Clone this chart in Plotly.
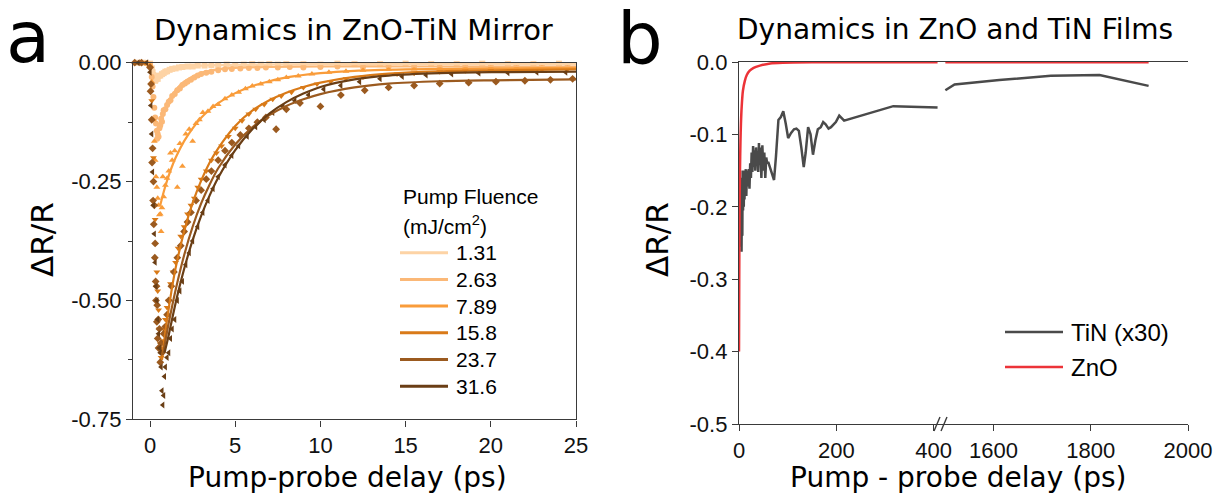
import plotly.graph_objects as go

W, H = 1222, 498

# ---------------- Panel a: ZnO-TiN mirror, transient reflectivity ----------------
fluences = ["1.31", "2.63", "7.89", "15.8", "23.7", "31.6"]
colors_a = ["#fdd3a5", "#fbb877", "#f99c3a", "#d97a18", "#9b5a1f", "#6a3e15"]
symbols_a = ["square", "circle", "triangle-up", "triangle-down", "diamond", "triangle-left"]

# measured points (delay in ps, dR/R)
t_131 = [-0.8, -0.4, 0.0, 0.1, 0.15, 0.2, 0.25, 0.3, 0.35, 0.4, 0.45, 0.5, 0.6, 0.7, 0.8, 0.9, 1.0, 1.15, 1.3, 1.5,
         1.7, 1.9, 2.2, 2.5, 2.8, 3.2, 3.6, 4.0, 4.5, 5.0, 5.5, 6.0, 6.5, 7.0, 7.5, 8.0, 9.0, 10.0, 11.0, 12.0, 13.5,
         15.0, 16.5, 18.0, 19.5, 21.0, 22.5, 24.0]
y_131 = [0.000, 0.000, -0.002, -0.012, -0.020, -0.026, -0.033, -0.038, -0.035, -0.031, -0.034, -0.028, -0.027, -0.024,
         -0.022, -0.019, -0.018, -0.015, -0.013, -0.012, -0.010, -0.009, -0.008, -0.008, -0.006, -0.006, -0.005, -0.006,
         -0.004, -0.005, -0.004, -0.003, -0.004, -0.003, -0.004, -0.003, -0.003, -0.004, -0.002, -0.003, -0.003, -0.002,
         -0.003, -0.003, -0.002, -0.003, -0.003, -0.002]

t_263 = [-0.6, -0.2, 0.0, 0.1, 0.15, 0.2, 0.25, 0.3, 0.35, 0.4, 0.42, 0.45, 0.5, 0.55, 0.6, 0.65, 0.7, 0.75, 0.8, 0.9,
         1.0, 1.1, 1.2, 1.3, 1.45, 1.6, 1.75, 1.9, 2.05, 2.2, 2.4, 2.6, 2.8, 3.0, 3.3, 3.6, 4.0, 4.4, 4.8, 5.3, 5.8,
         6.3, 6.8, 7.5, 8.2, 9.0, 10.0, 11.0, 12.5, 14.0, 15.5, 17.0, 18.5, 20.0, 21.5, 23.0, 24.5]
y_263 = [0.000, -0.001, -0.004, -0.030, -0.050, -0.072, -0.095, -0.115, -0.128, -0.143, -0.160, -0.150, -0.156, -0.138,
         -0.132, -0.118, -0.124, -0.108, -0.100, -0.098, -0.089, -0.082, -0.079, -0.070, -0.066, -0.058, -0.054, -0.047,
         -0.044, -0.040, -0.036, -0.031, -0.027, -0.024, -0.021, -0.019, -0.016, -0.014, -0.013, -0.012, -0.011, -0.011,
         -0.010, -0.010, -0.009, -0.010, -0.009, -0.008, -0.009, -0.008, -0.008, -0.009, -0.008, -0.008, -0.007, -0.008,
         -0.008]

t_789 = [-0.5, 0.0, 0.1, 0.2, 0.25, 0.3, 0.35, 0.4, 0.45, 0.5, 0.55, 0.6, 0.65, 0.7, 0.75, 0.8, 0.9, 1.0, 1.1, 1.2,
         1.3, 1.45, 1.6, 1.75, 1.9, 2.1, 2.3, 2.5, 2.7, 2.9, 3.1, 3.4, 3.7, 4.0, 4.4, 4.8, 5.2, 5.6, 6.0, 6.5, 7.0, 7.5,
         8.0, 8.7, 9.5, 10.5, 11.5, 12.5, 14.0, 15.5, 17.0, 18.5, 20.0, 21.5, 23.0, 24.5]
y_789 = [0.000, -0.005, -0.040, -0.120, -0.165, -0.205, -0.240, -0.262, -0.285, -0.300, -0.320, -0.318, -0.355, -0.305,
         -0.240, -0.282, -0.258, -0.243, -0.228, -0.190, -0.205, -0.185, -0.262, -0.170, -0.218, -0.150, -0.140, -0.165,
         -0.128, -0.120, -0.105, -0.102, -0.092, -0.088, -0.076, -0.068, -0.062, -0.055, -0.049, -0.045, -0.040, -0.036,
         -0.031, -0.028, -0.024, -0.020, -0.018, -0.016, -0.014, -0.013, -0.012, -0.012, -0.011, -0.011, -0.010, -0.010]

t_158 = [-0.3, 0.0, 0.1, 0.2, 0.3, 0.4, 0.45, 0.5, 0.55, 0.6, 0.65, 0.7, 0.75, 0.8, 0.9, 1.0, 1.1, 1.2, 1.35, 1.5,
         1.65, 1.8, 2.0, 2.2, 2.4, 2.6, 2.8, 3.0, 3.3, 3.6, 3.9, 4.2, 4.6, 5.0, 5.4, 5.8, 6.2, 6.7, 7.2, 7.7, 8.3, 9.0,
         9.8, 10.6, 11.5, 12.5, 13.5, 14.5, 15.5, 17.0, 18.5, 20.0, 21.5, 23.0, 24.5]
y_158 = [0.000, -0.010, -0.080, -0.200, -0.330, -0.440, -0.480, -0.520, -0.560, -0.590, -0.620, -0.600, -0.585, -0.560,
         -0.540, -0.515, -0.500, -0.465, -0.440, -0.420, -0.390, -0.365, -0.345, -0.318, -0.300, -0.285, -0.262, -0.245,
         -0.228, -0.205, -0.190, -0.175, -0.155, -0.138, -0.122, -0.108, -0.098, -0.088, -0.077, -0.070, -0.062, -0.052,
         -0.045, -0.040, -0.034, -0.030, -0.027, -0.024, -0.022, -0.019, -0.017, -0.016, -0.015, -0.015, -0.014]

t_237 = [-0.9, -0.5, 0.0, 0.03, 0.06, 0.1, 0.12, 0.15, 0.18, 0.2, 0.22, 0.25, 0.28, 0.3, 0.33, 0.35, 0.38, 0.4, 0.42,
         0.45, 0.48, 0.5, 0.55, 0.6, 0.65, 0.7, 0.8, 0.9, 1.0, 1.1, 1.25, 1.4, 1.6, 1.8, 2.0, 2.2, 2.4, 2.7, 3.0, 3.3,
         3.6, 4.0, 4.4, 4.8, 5.3, 5.8, 6.3, 6.8, 7.4, 8.0, 8.8, 10.0, 11.2, 12.6, 14.0, 15.5, 17.0, 18.7, 20.3, 22.0,
         23.5, 24.8]
y_237 = [0.000, 0.000, -0.010, -0.060, -0.045, -0.120, -0.210, -0.180, -0.290, -0.250, -0.340, -0.300, -0.410, -0.380,
         -0.460, -0.500, -0.470, -0.545, -0.510, -0.580, -0.540, -0.600, -0.560, -0.630, -0.590, -0.610, -0.570, -0.555,
         -0.530, -0.500, -0.470, -0.440, -0.410, -0.385, -0.355, -0.335, -0.315, -0.290, -0.268, -0.245, -0.228, -0.205,
         -0.185, -0.168, -0.152, -0.138, -0.125, -0.115, -0.140, -0.098, -0.085, -0.092, -0.068, -0.058, -0.052, -0.048,
         -0.044, -0.042, -0.040, -0.038, -0.036, -0.034]

t_316 = [-0.7, -0.2, 0.0, 0.05, 0.1, 0.15, 0.2, 0.25, 0.3, 0.35, 0.4, 0.45, 0.5, 0.55, 0.6, 0.65, 0.7, 0.75, 0.8, 0.85,
         0.9, 1.0, 1.1, 1.2, 1.3, 1.45, 1.6, 1.75, 1.9, 2.1, 2.3, 2.5, 2.8, 3.1, 3.4, 3.7, 4.0, 4.4, 4.8, 5.2, 5.7, 6.2,
         6.7, 7.2, 7.8, 8.5, 9.3, 10.2, 11.2, 12.3, 13.5, 14.8, 16.2, 17.7, 19.3, 21.0, 22.7, 24.4]
y_316 = [0.000, 0.000, -0.020, -0.090, -0.150, -0.230, -0.300, -0.360, -0.420, -0.470, -0.500, -0.540, -0.570, -0.600,
         -0.610, -0.640, -0.690, -0.720, -0.700, -0.660, -0.640, -0.620, -0.610, -0.580, -0.560, -0.540, -0.500, -0.480,
         -0.460, -0.425, -0.400, -0.375, -0.345, -0.315, -0.290, -0.265, -0.240, -0.215, -0.195, -0.175, -0.155, -0.135,
         -0.120, -0.105, -0.092, -0.080, -0.068, -0.056, -0.048, -0.040, -0.034, -0.029, -0.026, -0.024, -0.022, -0.021,
         -0.020, -0.020]

# exponential-recovery fits (delay in ps, dR/R)
ft_131 = [0.3, 0.5, 0.75, 1.0, 1.5, 2.0, 3.0, 4.0, 6.0, 10.0, 15.0, 20.0, 25.0]
fy_131 = [-0.030, -0.026, -0.021, -0.017, -0.012, -0.009, -0.006, -0.005, -0.004, -0.003, -0.003, -0.003, -0.003]
ft_263 = [0.45, 0.6, 0.8, 1.0, 1.25, 1.5, 2.0, 2.5, 3.0, 4.0, 5.0, 7.0, 10.0, 15.0, 20.0, 25.0]
fy_263 = [-0.152, -0.130, -0.106, -0.088, -0.071, -0.058, -0.040, -0.029, -0.021, -0.014, -0.011, -0.009, -0.008,
          -0.008, -0.008, -0.008]
ft_789 = [0.6, 0.8, 1.0, 1.25, 1.5, 2.0, 2.5, 3.0, 3.5, 4.0, 5.0, 6.0, 7.0, 8.0, 10.0, 12.0, 15.0, 20.0, 25.0]
fy_789 = [-0.300, -0.272, -0.248, -0.222, -0.200, -0.165, -0.138, -0.116, -0.099, -0.085, -0.064, -0.049, -0.039,
          -0.031, -0.022, -0.017, -0.014, -0.012, -0.011]
ft_158 = [0.7, 0.85, 1.0, 1.25, 1.5, 2.0, 2.5, 3.0, 3.5, 4.0, 5.0, 6.0, 7.0, 8.0, 9.0, 10.0, 12.0, 14.0, 17.0, 20.0, 25.0]
fy_158 = [-0.625, -0.580, -0.540, -0.482, -0.432, -0.355, -0.295, -0.248, -0.210, -0.180, -0.133, -0.101, -0.079,
          -0.063, -0.051, -0.042, -0.030, -0.023, -0.018, -0.016, -0.014]
ft_237 = [0.75, 0.9, 1.05, 1.25, 1.5, 2.0, 2.5, 3.0, 3.5, 4.0, 5.0, 6.0, 7.0, 8.0, 9.0, 10.0, 12.0, 14.0, 17.0, 20.0, 25.0]
fy_237 = [-0.615, -0.585, -0.556, -0.520, -0.478, -0.405, -0.345, -0.296, -0.256, -0.222, -0.172, -0.136, -0.110,
          -0.091, -0.077, -0.066, -0.052, -0.044, -0.039, -0.037, -0.035]
ft_316 = [0.85, 1.0, 1.15, 1.35, 1.6, 2.0, 2.5, 3.0, 3.5, 4.0, 5.0, 6.0, 7.0, 8.0, 9.0, 10.0, 12.0, 14.0, 17.0, 20.0, 25.0]
fy_316 = [-0.610, -0.588, -0.564, -0.530, -0.490, -0.434, -0.373, -0.322, -0.279, -0.242, -0.184, -0.140, -0.107,
          -0.083, -0.065, -0.051, -0.035, -0.027, -0.022, -0.020, -0.019]

points_a = [(t_131, y_131), (t_263, y_263), (t_789, y_789), (t_158, y_158), (t_237, y_237), (t_316, y_316)]
fits_a = [(ft_131, fy_131), (ft_263, fy_263), (ft_789, fy_789), (ft_158, fy_158), (ft_237, fy_237), (ft_316, fy_316)]

yticks_a = [-0.75, -0.50, -0.25, 0.00]
yticktext_a = ["-0.75", "-0.50", "-0.25", "0.00"]
xticks_a = [0, 5, 10, 15, 20, 25]

# ---------------- Panel b: bare ZnO and TiN films ----------------
# TiN signal (scaled x30), early-delay segment and late-delay segment
tin_t1 = [3, 3.8, 4.5, 5.2, 6, 6.8, 7.5, 8.3, 9, 9.8, 10.5, 11.3, 12, 13, 14, 15, 16, 17, 18, 19, 20, 21.5, 23, 24.5,
          26, 27.5, 29, 30.5, 32, 33.5, 35, 36.5, 38, 39.5, 41, 42.5, 44, 46, 48, 50, 52, 54, 56, 58, 60, 63, 66, 69,
          72, 76, 81, 86, 91, 96, 101, 107, 113, 118, 123, 128, 133, 137, 142, 147, 152, 157, 162, 168, 173, 178,
          184, 189, 194, 199, 206, 216, 317, 408]
tin_y1 = [-0.170, -0.255, -0.160, -0.262, -0.175, -0.240, -0.150, -0.205, -0.165, -0.200, -0.150, -0.190, -0.155,
          -0.178, -0.148, -0.185, -0.158, -0.172, -0.150, -0.165, -0.148, -0.175, -0.140, -0.160, -0.125, -0.152,
          -0.116, -0.145, -0.122, -0.150, -0.118, -0.140, -0.125, -0.152, -0.112, -0.142, -0.118, -0.160, -0.115,
          -0.150, -0.125, -0.160, -0.132, -0.140, -0.138, -0.145, -0.150, -0.158, -0.163, -0.130, -0.080, -0.076,
          -0.068, -0.085, -0.105, -0.098, -0.093, -0.092, -0.095, -0.118, -0.145, -0.125, -0.090, -0.100, -0.128,
          -0.108, -0.093, -0.090, -0.083, -0.086, -0.092, -0.090, -0.087, -0.083, -0.074, -0.081, -0.061, -0.063]
tin_t2 = [1501, 1520, 1612, 1718, 1818, 1919]
tin_y2 = [-0.039, -0.031, -0.025, -0.019, -0.018, -0.033]

# ZnO signal
zno_t1 = [0, 0.5, 1, 2, 3, 4, 5.5, 8, 12, 16, 22, 30, 43, 64, 90, 150, 250, 408]
zno_y1 = [-0.400, -0.300, -0.220, -0.150, -0.110, -0.085, -0.062, -0.040, -0.026, -0.018, -0.012, -0.008, -0.005,
          -0.002, -0.001, -0.0005, -0.0005, -0.0005]
zno_t2 = [1501, 1600, 1700, 1800, 1919]
zno_y2 = [-0.0005, -0.0005, -0.0005, -0.0005, -0.0005]

yticks_b = [-0.5, -0.4, -0.3, -0.2, -0.1, 0.0]
yticktext_b = ["-0.5", "-0.4", "-0.3", "-0.2", "-0.1", "0.0"]
xticks_b1 = [0, 200, 400]
xticks_b2 = [1600, 1800, 2000]


def px(x):
    return x / W


def py(y):
    return 1 - y / H


AXIS = "#3a3a3a"
TICKFONT = dict(family="Liberation Sans, Arial", size=22, color="#111")
TITLEFONT = "DejaVu Sans"

fig = go.Figure()

for (pt, pyv), c, s in zip(points_a, colors_a, symbols_a):
    fig.add_trace(go.Scatter(x=pt, y=pyv, mode="markers", xaxis="x", yaxis="y",
                             marker=dict(symbol=s, size=6, color=c, line=dict(width=0)),
                             showlegend=False, cliponaxis=False))
for (ftx, fty), c in zip(fits_a, colors_a):
    fig.add_trace(go.Scatter(x=ftx, y=fty, mode="lines", xaxis="x", yaxis="y",
                             line=dict(color=c, width=2.2, shape="spline", smoothing=0.8),
                             showlegend=False))

TIN_C = "#4a4a4a"
ZNO_C = "#ec3338"
fig.add_trace(go.Scatter(x=tin_t1, y=tin_y1, mode="lines", xaxis="x2", yaxis="y2",
                         line=dict(color=TIN_C, width=2.5), showlegend=False))
fig.add_trace(go.Scatter(x=tin_t2, y=tin_y2, mode="lines", xaxis="x3", yaxis="y2",
                         line=dict(color=TIN_C, width=2.5), showlegend=False))
fig.add_trace(go.Scatter(x=zno_t1, y=zno_y1, mode="lines", xaxis="x2", yaxis="y2",
                         line=dict(color=ZNO_C, width=2.5, shape="spline", smoothing=0.6), showlegend=False))
fig.add_trace(go.Scatter(x=zno_t2, y=zno_y2, mode="lines", xaxis="x3", yaxis="y2",
                         line=dict(color=ZNO_C, width=2.5), showlegend=False))

common_axis = dict(showline=True, linecolor=AXIS, linewidth=1.4, ticks="outside", ticklen=6, tickwidth=1.4,
                   tickcolor=AXIS, showgrid=False, zeroline=False, tickfont=TICKFONT, fixedrange=True,
                   automargin=False)

ya_dom = [py(419.3), py(62.7)]
yb_dom = [py(424), py(62)]
BREAK = 940

fig.update_layout(
    width=W, height=H, margin=dict(l=0, r=0, t=0, b=0, autoexpand=False),
    paper_bgcolor="white", plot_bgcolor="white", showlegend=False,
    xaxis=dict(domain=[px(133), px(576)], range=[-1, 25], anchor="y", mirror=True,
               tickvals=xticks_a, **common_axis),
    yaxis=dict(domain=ya_dom, range=[-0.75, 0], anchor="x", mirror=True,
               tickvals=yticks_a, ticktext=yticktext_a,
               minor=dict(dtick=0.125, tick0=0, ticks="outside", ticklen=4, tickcolor=AXIS, tickwidth=1.2),
               **common_axis),
    xaxis2=dict(domain=[px(739), px(BREAK)], range=[0, 413], anchor="y2", mirror=True,
                tickvals=xticks_b1, **common_axis),
    xaxis3=dict(domain=[px(BREAK), px(1188)], range=[1490, 2000], anchor="y2", mirror=True,
                tickvals=xticks_b2, **common_axis),
    yaxis2=dict(domain=yb_dom, range=[-0.5, 0], anchor="x2",
                tickvals=yticks_b, ticktext=yticktext_b, **common_axis),
    yaxis3=dict(domain=yb_dom, range=[-0.5, 0], anchor="x3", overlaying="y2", side="right",
                showline=True, linecolor=AXIS, linewidth=1.4, ticks="", showticklabels=False,
                showgrid=False, zeroline=False, fixedrange=True, automargin=False),
)

ann = []
shapes = []


def text(x, y, s, size, family=TITLEFONT, xanchor="center", yanchor="middle", angle=0, **kw):
    ann.append(dict(x=px(x), y=py(y), xref="paper", yref="paper", text=s, showarrow=False,
                    xanchor=xanchor, yanchor=yanchor, textangle=angle,
                    font=dict(family=family, size=size, color="#000"), **kw))


# panel letters (fixed-height boxes so they stay inside the page) and titles
text(28, 0, "a", 72, yanchor="top", height=70, valign="middle")
text(640, 0, "b", 72, yanchor="top", height=72, valign="middle")
text(353, 30, "Dynamics in ZnO-TiN Mirror", 29)
text(955, 30, "Dynamics in ZnO and TiN Films", 28)

# axis titles
text(347, 496, "Pump-probe delay (ps)", 28, yanchor="bottom")
text(958, 496, "Pump - probe delay (ps)", 28, yanchor="bottom")
text(42, 240, "ΔR/R", 31, angle=-90)
text(657, 240, "ΔR/R", 31, angle=-90)

# legend for panel a
LEGFONT = "Liberation Sans, Arial"
text(401, 196, "Pump Fluence", 21, family=LEGFONT, xanchor="left")
text(401, 225, "(mJ/cm<sup>2</sup>)", 21, family=LEGFONT, xanchor="left")
for i, (lab, c) in enumerate(zip(fluences, colors_a)):
    yy = 252.7 + i * 26.7
    shapes.append(dict(type="line", xref="paper", yref="paper", x0=px(400), x1=px(448), y0=py(yy), y1=py(yy),
                       line=dict(color=c, width=3)))
    text(454, yy, lab, 21, family=LEGFONT, xanchor="left")

# legend for panel b
for i, (lab, c) in enumerate([("TiN (x30)", TIN_C), ("ZnO", ZNO_C)]):
    yy = 332 + i * 35
    shapes.append(dict(type="line", xref="paper", yref="paper", x0=px(1005), x1=px(1063), y0=py(yy), y1=py(yy),
                       line=dict(color=c, width=2.5)))
    text(1069, yy, lab, 24, family=LEGFONT, xanchor="left")

# axis-break marks
for dx in (0, 7):
    shapes.append(dict(type="line", xref="paper", yref="paper",
                       x0=px(BREAK - 6 + dx), x1=px(BREAK + dx), y0=py(431), y1=py(417),
                       line=dict(color=AXIS, width=1.4)))

fig.update_layout(annotations=ann, shapes=shapes)
fig.write_html("out.html")
